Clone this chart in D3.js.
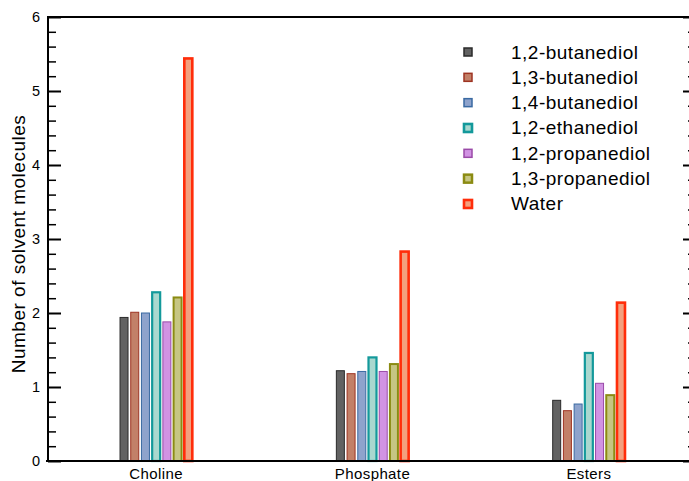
<!DOCTYPE html>
<html>
<head>
<meta charset="utf-8">
<script src="https://cdn.jsdelivr.net/npm/d3@7"></script>
<style>
  html, body { margin: 0; padding: 0; background: #fff; }
  svg { display: block; font-family: "Liberation Sans", Arial, Helvetica, sans-serif; }
</style>
</head>
<body>
<svg id="chart" width="689" height="481"></svg>
<script>
// Solvent-site groups and solvent series
const categories = ["Choline", "Phosphate", "Esters"];
const seriesNames = ["1,2-butanediol", "1,3-butanediol", "1,4-butanediol",
  "1,2-ethanediol", "1,2-propanediol", "1,3-propanediol", "Water"];

// Number of solvent molecules per site, one array per solvent
const butanediol12 = [1.94, 1.22, 0.82];
const butanediol13 = [2.01, 1.18, 0.68];
const butanediol14 = [2.00, 1.21, 0.77];
const ethanediol12 = [2.28, 1.40, 1.46];
const propanediol12 = [1.88, 1.21, 1.05];
const propanediol13 = [2.21, 1.31, 0.89];
const water = [5.44, 2.83, 2.14];

const yTicks = [0, 1, 2, 3, 4, 5, 6];

const seriesValues = [butanediol12, butanediol13, butanediol14, ethanediol12,
  propanediol12, propanediol13, water];

const fills = ["#626262", "#c28068", "#8ea3cc", "#a9d8cf", "#d193e3", "#c6c683", "#f3a07e"];
const strokes = ["#2a2a2a", "#9e3322", "#3a6aa2", "#13999b", "#9a4aa8", "#8b8b12", "#ff2d0a"];
const strokeW = [1, 1, 1, 2.2, 1, 2, 2.6];

const FONT = "Liberation Sans, Arial, Helvetica, sans-serif";

const svg = d3.select("#chart");
const plotLeft = 48, plotRight = 697, plotTop = 17, plotBottom = 461;

const y = d3.scaleLinear().domain([0, 6]).range([plotBottom, plotTop]);
const x = d3.scaleBand().domain(categories).range([plotLeft, plotRight]);
const xs = d3.scaleBand().domain(seriesNames).range([-37.5, 37.5])
  .paddingInner(0.16).paddingOuter(0.08);

// Bars
const g = svg.append("g");
seriesNames.forEach((name, si) => {
  g.selectAll(null)
    .data(categories.map((c, ci) => ({ c, v: seriesValues[si][ci] })))
    .join("rect")
    .attr("x", d => x(d.c) + x.bandwidth() / 2 + xs(name) + 0.5)
    .attr("width", xs.bandwidth() - 1)
    .attr("y", d => y(d.v))
    .attr("height", d => y(0) - y(d.v))
    .attr("fill", fills[si])
    .attr("stroke", strokes[si])
    .attr("stroke-width", strokeW[si]);
});

// Frame
svg.append("path")
  .attr("d", `M${plotLeft},${plotBottom}V${plotTop}H${plotRight}V${plotBottom}H${plotLeft - 2}`)
  .attr("fill", "none").attr("stroke", "#000").attr("stroke-width", 2);

const minorTicks = d3.range(0, 6.0001, 0.2).filter(v => Math.abs(v - Math.round(v)) > 1e-6);

// Left axis: major ticks with labels, ticks point inward
const yAxisMajor = svg.append("g").attr("transform", `translate(${plotLeft},0)`)
  .call(d3.axisLeft(y).tickValues(yTicks).tickFormat(d3.format("d"))
    .tickSizeInner(-13).tickSizeOuter(0).tickPadding(8));
yAxisMajor.select(".domain").remove();
yAxisMajor.selectAll("line").attr("stroke-width", 2);
yAxisMajor.selectAll("text").attr("font-size", 14.5).attr("fill", "#000")
  .attr("font-family", FONT);

const yAxisMinor = svg.append("g").attr("transform", `translate(${plotLeft},0)`)
  .call(d3.axisLeft(y).tickValues(minorTicks).tickFormat("")
    .tickSizeInner(-8).tickSizeOuter(0));
yAxisMinor.select(".domain").remove();
yAxisMinor.selectAll("line").attr("stroke-width", 1.5);

// Right axis ticks, also inward
const rMajor = svg.append("g").attr("transform", `translate(${plotRight},0)`)
  .call(d3.axisRight(y).tickValues(yTicks).tickFormat("")
    .tickSizeInner(-14).tickSizeOuter(0));
rMajor.select(".domain").remove();
rMajor.selectAll("line").attr("stroke-width", 2);

const rMinor = svg.append("g").attr("transform", `translate(${plotRight},0)`)
  .call(d3.axisRight(y).tickValues(minorTicks).tickFormat("")
    .tickSizeInner(-9).tickSizeOuter(0));
rMinor.select(".domain").remove();
rMinor.selectAll("line").attr("stroke-width", 1.5);

// Category labels
const xAxis = svg.append("g").attr("transform", `translate(0,${plotBottom})`)
  .call(d3.axisBottom(x).tickSize(0).tickPadding(0));
xAxis.select(".domain").remove();
xAxis.selectAll("text")
  .attr("dy", null).attr("y", 18)
  .attr("font-size", 15).attr("letter-spacing", 0.4).attr("fill", "#000")
  .attr("font-family", FONT);

// Y-axis title
svg.append("text")
  .attr("transform", `translate(25,${(plotTop + plotBottom) / 2 + 5}) rotate(-90)`)
  .attr("text-anchor", "middle")
  .attr("font-size", 19)
  .attr("letter-spacing", 0.5)
  .text("Number of solvent molecules");

// Legend
const legend = svg.append("g");
seriesNames.forEach((name, i) => {
  const ly = 52 + i * 25.33;
  legend.append("rect")
    .attr("x", 464).attr("y", ly - 4)
    .attr("width", 8).attr("height", 8)
    .attr("fill", fills[i]).attr("stroke", strokes[i])
    .attr("stroke-width", Math.min(strokeW[i] + 0.5, 2.6));
  legend.append("text")
    .attr("x", 511).attr("y", ly + 6.5)
    .attr("font-size", 19)
    .attr("letter-spacing", 0.5)
    .text(name);
});
</script>
</body>
</html>
